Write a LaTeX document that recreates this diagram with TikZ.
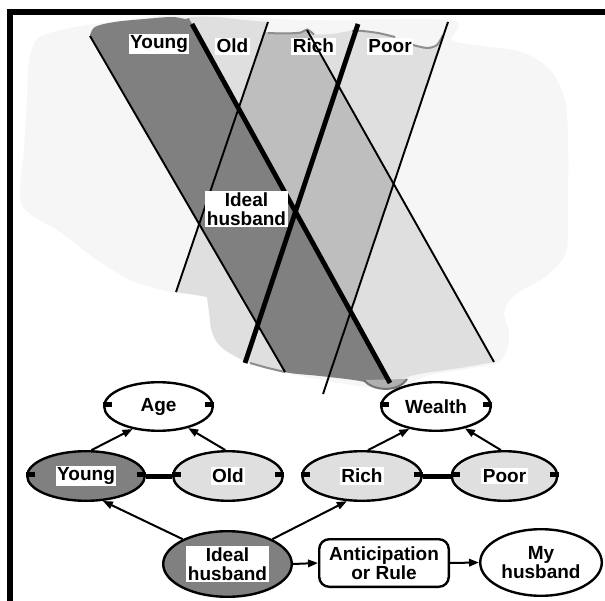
\documentclass[tikz,border=0pt]{standalone}
\usepackage{fontspec}
\setmainfont{Liberation Sans}
\usetikzlibrary{shapes.geometric,arrows.meta}
\definecolor{dk}{HTML}{808080}
\definecolor{md}{HTML}{BEBEBE}
\definecolor{lt}{HTML}{DFDFDF}
\definecolor{bg}{HTML}{F6F6F6}
\definecolor{sh}{HTML}{8E8E8E}
\newcommand\lblfont{\fontsize{19}{18.5}\selectfont\bfseries}
\begin{document}
\begin{tikzpicture}[x=1pt,y=-1pt,
  bandthin/.style={line width=1.9pt},
  bandthick/.style={line width=4.8pt},
  shadowline/.style={draw=sh,line width=2pt},
  toplbl/.style={fill=white,inner sep=1.6pt,font=\lblfont,anchor=base},
  txtbox/.style={fill=white,inner sep=1.6pt,font=\lblfont,align=center},
  plaintxt/.style={inner sep=0pt,font=\lblfont,align=center},
  ell/.style={ellipse,draw,line width=2.4pt,inner sep=0pt},
  elltick/.style={line width=5pt},
  arr/.style={line width=2pt,-{Triangle[length=10pt,width=7.5pt]}},
  link/.style={line width=5pt},
]
\useasboundingbox (0,0) rectangle (605,601);
\fill[white] (0,0) rectangle (605,601);

% pale background blob
\fill[bg] plot[smooth cycle,tension=0.5] coordinates {
  (62,30) (38,38) (29,60) (27,100) (24,150) (22,205) (60,232) (100,262)
  (135,282) (176,293) (207,298) (211,330) (226,351) (252,364) (300,376)
  (390,389) (430,375) (494,364) (506,352) (509,333) (504,312) (516,294)
  (546,276) (566,252) (568,200) (568,140) (565,100) (550,70) (522,52)
  (482,46) (452,40) (450,20) (300,20) (190,14) (95,24)};

% bands
\begin{scope}
\clip (90,36)
  -- plot[smooth,tension=0.6] coordinates {(90,36) (95,27) (115,22) (145,19) (172,17) (186,19) (192,17) (215,17) (245,20) (268,22)}
  -- (264.6,32)
  -- plot[smooth,tension=0.6] coordinates {(264.6,32) (285,33) (301,32) (307,29) (314,34) (332,34) (350,31) (362,31) (378,33) (395,37) (413,45) (427,48) (437,45) (443,35) (446,26)}
  -- (448,22) -- (393.6,183.8) -- (494,362)
  -- plot[smooth,tension=0.6] coordinates {(494,362) (460,368) (425,373) (405,378) (396,386) (385,388) (360,381) (320,376) (290,373) (268,368) (250,363) (235,356) (220,346) (212,332) (209,312) (207,297)}
  -- (190,294) -- (176,292) -- (199.1,224.2) -- cycle;
\fill[lt] (0,0) rectangle (605,420);
\begin{scope}
\clip (178.8,0) -- (290.1,0) -- (526.6,420) -- (410.4,420) -- cycle;
\fill[md] (275.5,0) -- (455.4,0) -- (314.3,420) -- (132.4,420) -- cycle;
\end{scope}
\fill[dk] (69.1,0) -- (178.8,0) -- (410.4,420) -- (312.7,420) -- cycle;
\end{scope}

% soft edges
\draw[shadowline] plot[smooth] coordinates {(268,33) (285,33.5) (301,32.5) (307,29.5) (314,34.5)};
\draw[shadowline] plot[smooth] coordinates {(352,31) (362,31) (378,33) (395,37)};
\draw[shadowline] plot[smooth] coordinates {(413,45) (427,48) (437,45) (443,35)};
\draw[shadowline] plot[smooth] coordinates {(250,363) (268,368) (285,372)};
\fill[sh!70] (364,380) .. controls (372,391) and (398,393) .. (407,379) -- cycle;
\draw[shadowline,draw=sh!80!black] (364,380) .. controls (372,391) and (398,393) .. (407,379);

% band boundary lines
\coordinate (l1a) at (90,36);   \coordinate (l1b) at (285,372);
\coordinate (l2a) at (192,24);  \coordinate (l2b) at (390,383);
\coordinate (l3a) at (307,30);  \coordinate (l3b) at (494,362);
\coordinate (r1a) at (268,22);  \coordinate (r1b) at (176,292);
\coordinate (r2a) at (358,24);  \coordinate (r2b) at (245,363);
\coordinate (r3a) at (448,22);  \coordinate (r3b) at (323,394);
\draw[bandthin] (l1a) -- (l1b);
\draw[bandthick] (l2a) -- (l2b);
\draw[bandthin] (r1a) -- (r1b);
\draw[bandthick] (r2a) -- (r2b);
\draw[bandthin] (r3a) -- (r3b);

% band labels
\node[toplbl] (tyoung) at (159,48.5) {Young};
\node[toplbl] (told) at (232.5,53) {Old};
\node[toplbl] (trich) at (313.5,53) {Rich};
\node[toplbl] (tpoor) at (390,53) {Poor};
\node[txtbox] (tideal) at (246.5,209) {Ideal\\husband};
\draw[bandthin] (l3a) -- (l3b);

% frame
\fill[black] (7,9) rectangle (605,15);
\fill[black] (7,9) rectangle (13,601);

% network
\node[ell,fill=white,minimum width=108.6pt,minimum height=48.6pt] (age) at (158.5,406.5) {};
\node[ell,fill=white,minimum width=109.6pt,minimum height=48.6pt] (wealth) at (436,406.5) {};
\node[ell,fill=dk,minimum width=117.6pt,minimum height=49.6pt] (young) at (86,476) {};
\node[ell,fill=lt,minimum width=109.6pt,minimum height=49.6pt] (old) at (228,476) {};
\node[ell,fill=lt,minimum width=119.6pt,minimum height=49.6pt] (rich) at (362,476) {};
\node[ell,fill=lt,minimum width=105.6pt,minimum height=49.6pt] (poor) at (504.5,476) {};
\node[ell,fill=dk,minimum width=128.6pt,minimum height=65.6pt] (ideal) at (227.5,564) {};
\node[draw,line width=2.4pt,rounded corners=10pt,fill=white,minimum width=129.6pt,minimum height=47.6pt,inner sep=0pt] (antic) at (384,563) {};
\node[ell,fill=white,minimum width=121.6pt,minimum height=66.6pt] (myh) at (541,562.5) {};

\node[plaintxt] (agetxt) at (age) {Age};
\node[plaintxt] (wealthtxt) at (wealth) {Wealth};
\node[txtbox] (youngtxt) at (young) {Young};
\node[txtbox] (oldtxt) at (old) {Old};
\node[txtbox] (richtxt) at (rich) {Rich};
\node[txtbox] (poortxt) at (poor) {Poor};
\node[txtbox] (idealtxt) at (ideal) {Ideal\\husband};
\node[plaintxt] (antictxt) at (antic) {Anticipation\\or Rule};
\node[plaintxt] (myhtxt) at (myh) {My\\husband};

% ticks
\foreach \n in {age,wealth,young,old,rich,poor}{
  \draw[elltick] ([yshift=2pt]\n.west) -- ++(9,0);
  \draw[elltick] ([yshift=2pt]\n.east) -- ++(-9,0);
}

% links and arrows
\draw[link] (young.east) -- (old.west);
\draw[link] (rich.east) -- (poor.west);
\draw[arr] (young.78) -- (age.221);
\draw[arr] (old.96) -- (age.324);
\draw[arr] (rich.77) -- (wealth.220);
\draw[arr] (poor.98) -- (wealth.323);
\draw[arr] (ideal.151) -- (young.304);
\draw[arr] (ideal.29) -- (rich.239);
\draw[arr] (ideal.east) -- (antic.west);
\draw[arr] (antic.east) -- (myh.west);
\end{tikzpicture}
\end{document}
